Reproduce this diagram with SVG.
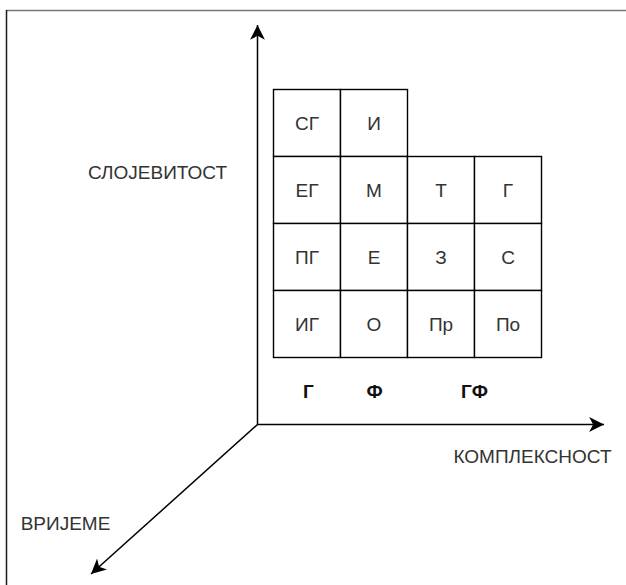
<svg xmlns="http://www.w3.org/2000/svg" width="626" height="585" viewBox="0 0 626 585">
<style>
.t{font-family:"Liberation Sans",Arial,Helvetica,sans-serif;font-size:19px;fill:#333;text-anchor:middle}
.b{font-family:"Liberation Sans",Arial,Helvetica,sans-serif;font-size:19px;font-weight:bold;fill:#111;text-anchor:middle}
.cell{fill:#fff;stroke:#000;stroke-width:1.4}
.axis{fill:none;stroke:#000;stroke-width:1.5}
</style>
<defs>
<marker id="arr" markerUnits="userSpaceOnUse" markerWidth="16" markerHeight="16" viewBox="0 0 14 14" refX="13" refY="7" orient="auto">
<path d="M13,7 L0,0.5 L3.5,7 L0,13.5 Z" fill="#000"/>
</marker>
</defs>
<rect width="626" height="585" fill="#fff"/>
<g id="frame">
<line x1="6" y1="10.5" x2="626" y2="10.5" stroke="#777" stroke-width="1.6"/>
<line x1="6.5" y1="10" x2="6.5" y2="585" stroke="#1a1a1a" stroke-width="1.5"/>
</g>
<g id="connectors">
<line class="axis" x1="257.5" y1="424.5" x2="257.5" y2="25" marker-end="url(#arr)"/>
<line class="axis" x1="257" y1="424.5" x2="604" y2="424.5" marker-end="url(#arr)"/>
<line class="axis" x1="257.5" y1="424.5" x2="91" y2="574" marker-end="url(#arr)"/>
</g>
<g id="grid">
<g id="c-sg"><rect class="cell" x="273.5" y="89.5" width="67" height="67"/><text class="t" x="307" y="129.8">СГ</text></g>
<g id="c-i"><rect class="cell" x="340.5" y="89.5" width="67" height="67"/><text class="t" x="374" y="129.8">И</text></g>
<g id="c-eg"><rect class="cell" x="273.5" y="156.5" width="67" height="67"/><text class="t" x="307" y="196.8">ЕГ</text></g>
<g id="c-m"><rect class="cell" x="340.5" y="156.5" width="67" height="67"/><text class="t" x="374" y="196.8">М</text></g>
<g id="c-t"><rect class="cell" x="407.5" y="156.5" width="67" height="67"/><text class="t" x="441" y="196.8">Т</text></g>
<g id="c-g"><rect class="cell" x="474.5" y="156.5" width="67" height="67"/><text class="t" x="508" y="196.8">Г</text></g>
<g id="c-pg"><rect class="cell" x="273.5" y="223.5" width="67" height="67"/><text class="t" x="307" y="263.8">ПГ</text></g>
<g id="c-e"><rect class="cell" x="340.5" y="223.5" width="67" height="67"/><text class="t" x="374" y="263.8">Е</text></g>
<g id="c-z"><rect class="cell" x="407.5" y="223.5" width="67" height="67"/><text class="t" x="441" y="263.8">З</text></g>
<g id="c-s"><rect class="cell" x="474.5" y="223.5" width="67" height="67"/><text class="t" x="508" y="263.8">С</text></g>
<g id="c-ig"><rect class="cell" x="273.5" y="290.5" width="67" height="67"/><text class="t" x="307" y="330.8">ИГ</text></g>
<g id="c-o"><rect class="cell" x="340.5" y="290.5" width="67" height="67"/><text class="t" x="374" y="330.8">О</text></g>
<g id="c-pr"><rect class="cell" x="407.5" y="290.5" width="67" height="67"/><text class="t" x="441" y="330.8">Пр</text></g>
<g id="c-po"><rect class="cell" x="474.5" y="290.5" width="67" height="67"/><text class="t" x="508" y="330.8">По</text></g>
</g>
<g id="labels">
<text class="b" x="308.5" y="398">Г</text>
<text class="b" x="374.5" y="398">Ф</text>
<text class="b" x="474.5" y="398">ГФ</text>
<text class="t" x="157.5" y="178.5">СЛОЈЕВИТОСТ</text>
<text class="t" x="532.5" y="462.5">КОМПЛЕКСНОСТ</text>
<text class="t" x="65.5" y="530">ВРИЈЕМЕ</text>
</g>
</svg>
